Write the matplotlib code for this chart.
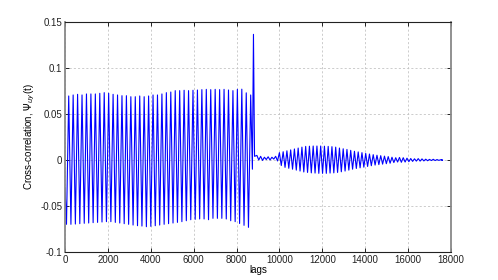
import matplotlib.pyplot as plt

plt.rcParams['font.family'] = ['Liberation Sans', 'DejaVu Sans']
plt.rcParams['axes.unicode_minus'] = False

# first half: peak / trough of each cycle (period ~207 lags)
period1 = 207
start1 = 70
upper1 = [0.0696, 0.0707, 0.0714, 0.0707, 0.0718, 0.0718, 0.0718, 0.0725, 0.0732, 0.0725,
          0.0714, 0.0707, 0.0699, 0.0699, 0.0688, 0.0688, 0.0696, 0.0688, 0.0696, 0.0707,
          0.0707, 0.0718, 0.0732, 0.0739, 0.0754, 0.0754, 0.0758, 0.0754, 0.0758, 0.0761,
          0.0765, 0.0768, 0.0765, 0.0768, 0.0765, 0.0768, 0.0761, 0.0754, 0.0768, 0.0770,
          0.0730, 0.0707]
lower1 = [-0.0699, -0.0699, -0.0696, -0.0692, -0.0688, -0.0685, -0.0681, -0.0678, -0.0674, -0.0670,
          -0.0670, -0.0678, -0.0685, -0.0692, -0.0699, -0.0707, -0.0714, -0.0718, -0.0725, -0.0721,
          -0.0714, -0.0707, -0.0699, -0.0692, -0.0685, -0.0678, -0.0670, -0.0660, -0.0649, -0.0645,
          -0.0641, -0.0641, -0.0649, -0.0634, -0.0634, -0.0634, -0.0641, -0.0660, -0.0670, -0.0690,
          -0.0710, -0.0732]

# spike at zero lag
spike_lags = [8740, 8790, 8840]
spike_vals = [-0.010, 0.1366, 0.004]

# second half: peak / trough of each cycle (period ~175 lags)
period2 = 175
start2 = 8950
upper2 = [0.005, 0.004, 0.003, 0.0035, 0.003, 0.004, 0.008, 0.009, 0.010, 0.011,
          0.012, 0.013, 0.014, 0.0148, 0.015, 0.0152, 0.0152, 0.0152, 0.015, 0.0148,
          0.0145, 0.014, 0.013, 0.0122, 0.0115, 0.0105, 0.0095, 0.0088, 0.008, 0.0072,
          0.0065, 0.0058, 0.0052, 0.0047, 0.0042, 0.0037, 0.003, 0.0025, 0.0028, 0.0025,
          0.002, 0.0016, 0.0013, 0.0015, 0.0012, 0.0009, 0.0007, 0.0008, 0.0005, 0.0003]
lower2 = [0.000, -0.0005, 0.0005, 0.000, 0.001, -0.001, -0.006, -0.008, -0.009, -0.010,
          -0.011, -0.012, -0.013, -0.0135, -0.014, -0.0142, -0.0145, -0.0145, -0.0145, -0.0142,
          -0.014, -0.0135, -0.0128, -0.012, -0.011, -0.010, -0.0092, -0.0085, -0.0078, -0.007,
          -0.0062, -0.0055, -0.005, -0.0045, -0.004, -0.0035, -0.0028, -0.0022, -0.0025, -0.0022,
          -0.0018, -0.0015, -0.0012, -0.0012, -0.001, -0.0008, -0.0006, -0.0006, -0.0004, -0.0002]
end_lag = 17580

xticks = [0, 2000, 4000, 6000, 8000, 10000, 12000, 14000, 16000, 18000]
yticks = [-0.1, -0.05, 0, 0.05, 0.1, 0.15]
ytick_labels = ['-0.1', '-0.05', '0', '0.05', '0.1', '0.15']

lags = [0]
vals = [-0.03]
for k in range(len(upper1)):
    lags += [start1 + period1 * k, start1 + period1 * k + period1 / 2]
    vals += [lower1[k], upper1[k]]
lags += spike_lags
vals += spike_vals
for k in range(len(upper2)):
    lags += [start2 + period2 * k, start2 + period2 * k + period2 / 2]
    vals += [upper2[k], lower2[k]]
lags.append(end_lag)
vals.append(0.0)

fig = plt.figure(figsize=(4.98, 2.8), dpi=100)
ax = fig.add_axes([0.1305, 0.1, 0.775, 0.8214])
ax.plot(lags, vals, color='#0000ff', linewidth=0.8)

ax.set_xlim(0, 18000)
ax.set_ylim(-0.1, 0.15)
ax.set_xticks(xticks)
ax.set_xticklabels([str(t) for t in xticks])
ax.set_yticks(yticks)
ax.set_yticklabels(ytick_labels)
ax.grid(True, linestyle=(0, (2.5, 2.5)), color='#c4c4c4', linewidth=0.6)
ax.tick_params(direction='in', length=3, width=0.7, labelsize=7, pad=2,
               top=True, right=True, colors='#222222')
for side in ['top', 'bottom']:
    ax.spines[side].set_color('#222222')
    ax.spines[side].set_linewidth(0.8)
for side in ['left', 'right']:
    ax.spines[side].set_color('#888888')
    ax.spines[side].set_linewidth(1.3)

ax.set_xlabel('lags', fontsize=7, labelpad=0)
ax.set_ylabel(r'Cross-correlation, $\Psi_{uy}$(t)', fontsize=7, labelpad=2)

fig.savefig('out.png', dpi=100)
